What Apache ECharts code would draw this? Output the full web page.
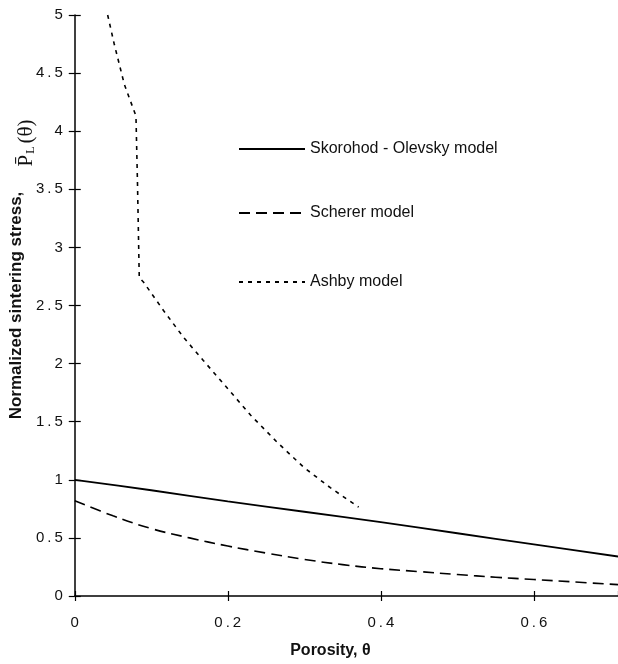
<!DOCTYPE html>
<html>
<head>
<meta charset="utf-8">
<script src="https://cdn.jsdelivr.net/npm/echarts@6/dist/echarts.min.js"></script>
<style>html,body{margin:0;padding:0;background:#fff}#c{width:618px;height:664px}</style>
</head>
<body>
<div id="c"></div>
<script>
var xTicks = [0, 0.2, 0.4, 0.6];
var yTicks = [0, 0.5, 1, 1.5, 2, 2.5, 3, 3.5, 4, 4.5, 5];

var skorohodX = [0, 0.1, 0.2, 0.3, 0.4, 0.5, 0.6, 0.71];
var skorohodY = [1.0, 0.91, 0.815, 0.725, 0.635, 0.54, 0.445, 0.34];

var schererX = [0, 0.05, 0.1, 0.15, 0.2, 0.25, 0.3, 0.35, 0.4, 0.45, 0.5, 0.55, 0.6, 0.65, 0.71];
var schererY = [0.82, 0.69, 0.58, 0.5, 0.43, 0.37, 0.315, 0.27, 0.235, 0.21, 0.185, 0.162, 0.142, 0.122, 0.098];

var ashbyX = [0.043, 0.0516, 0.0647, 0.08, 0.082, 0.0843, 0.09, 0.116, 0.142, 0.168, 0.1945, 0.23, 0.265, 0.299, 0.334, 0.371];
var ashbyY = [5.0, 4.75, 4.405, 4.13, 3.55, 2.74, 2.70, 2.457, 2.227, 2.027, 1.826, 1.555, 1.32, 1.109, 0.932, 0.765];

var names = ['Skorohod - Olevsky model', 'Scherer model', 'Ashby model'];

function zip(xs, ys) { return xs.map(function (x, i) { return [x, ys[i]]; }); }
function spaced(v) { return String(v).split('').join('\u2009'); }

var chart = echarts.init(document.getElementById('c'), null, { renderer: 'canvas' });
var FONT = 'Liberation Sans, Arial, Helvetica, sans-serif';
var XMAX = 0.71;

function legend(name, top) {
  return {
    data: [name], left: 238, top: top, padding: 0, itemWidth: 66, itemHeight: 14,
    selectedMode: false,
    itemStyle: { color: 'transparent', borderWidth: 0, opacity: 0 },
    textStyle: { fontFamily: FONT, fontSize: 16, color: '#111' }
  };
}

var option = {
  animation: false,
  backgroundColor: '#fff',
  grid: { left: 74.5, right: 0, top: 15, bottom: 68, containLabel: false },
  legend: [legend(names[0], 141), legend(names[1], 205), legend(names[2], 274)],
  xAxis: [{
    type: 'value', min: 0, max: XMAX, interval: 0.2,
    axisLine: { lineStyle: { color: '#000', width: 1.5 } },
    axisTick: { show: true, length: 5, lineStyle: { color: '#000', width: 1.2 } },
    splitLine: { show: false },
    axisLabel: { showMaxLabel: false, margin: 19, fontFamily: FONT, fontSize: 15, color: '#111',
      formatter: function (v) { var r = Math.round(v * 10) / 10; return xTicks.indexOf(r) >= 0 ? spaced(r) : ''; } },
    name: 'Porosity, θ', nameLocation: 'middle', nameGap: 47,
    nameTextStyle: { fontFamily: FONT, fontSize: 16, fontWeight: 'bold', color: '#111', padding: [0, 32, 0, 0] }
  }, {
    type: 'value', min: 0, max: XMAX, interval: 0.2, position: 'bottom',
    axisLine: { show: false, onZero: false },
    axisTick: { show: true, inside: true, length: 5, lineStyle: { color: '#000', width: 1.2 } },
    axisLabel: { show: false }, splitLine: { show: false }
  }],
  yAxis: [{
    type: 'value', min: 0, max: 5, interval: 0.5,
    axisLine: { show: true, lineStyle: { color: '#000', width: 1.5 } },
    axisTick: { show: true, length: 6, lineStyle: { color: '#000', width: 1.2 } },
    splitLine: { show: false },
    axisLabel: { margin: 12, fontFamily: FONT, fontSize: 15, color: '#111',
      formatter: function (v) { return spaced(v); } },
    name: 'Normalized sintering stress,', nameLocation: 'middle', nameGap: 45,
    nameTextStyle: { fontFamily: FONT, fontSize: 17, fontWeight: 'bold', color: '#111' }
  }, {
    type: 'value', min: 0, max: 5, interval: 0.5, position: 'left',
    axisLine: { show: false, onZero: false },
    axisTick: { show: true, inside: true, length: 6, lineStyle: { color: '#000', width: 1.2 } },
    axisLabel: { show: false }, splitLine: { show: false }
  }],
  graphic: [{
    type: 'text', x: 26, y: 143, rotation: Math.PI / 2,
    style: {
      text: '{p|P̄}{s|L}{p|(θ)}', align: 'center', verticalAlign: 'middle',
      rich: {
        p: { fontFamily: 'Liberation Serif, DejaVu Serif, serif', fontSize: 21, fill: '#111' },
        s: { fontFamily: 'Liberation Serif, DejaVu Serif, serif', fontSize: 12, fill: '#111', padding: [9, 3, 0, 1] }
      }
    }
  }],
  series: [{
    name: names[0], type: 'line', data: zip(skorohodX, skorohodY), symbol: 'none', smooth: 0.3,
    lineStyle: { color: '#000', width: 1.8, type: 'solid' }, itemStyle: { color: '#000' }
  }, {
    name: names[1], type: 'line', data: zip(schererX, schererY), symbol: 'none', smooth: 0.4,
    lineStyle: { color: '#000', width: 1.6, type: [11, 6] }, itemStyle: { color: '#000' }
  }, {
    name: names[2], type: 'line', data: zip(ashbyX, ashbyY), symbol: 'none', smooth: false,
    lineStyle: { color: '#000', width: 1.6, type: [4, 5] }, itemStyle: { color: '#000' }
  }]
};
chart.setOption(option);
</script>
</body>
</html>
